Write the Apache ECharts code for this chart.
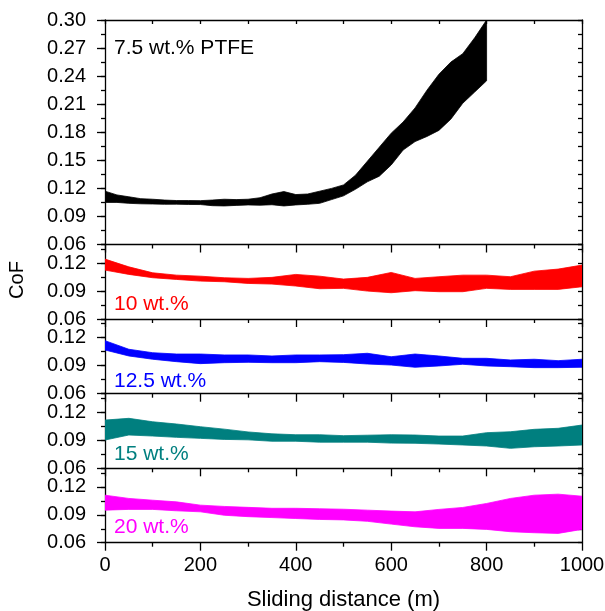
<!DOCTYPE html>
<html>
<head>
<meta charset="utf-8">
<script src="https://cdn.jsdelivr.net/npm/echarts@6/dist/echarts.min.js"></script>
<style>html,body{margin:0;padding:0;background:#fff;}#c{width:605px;height:611px;}</style>
</head>
<body>
<div id="c"></div>
<script>
// ---- data ----
const dist25 = [0,25,50,75,100,125,150,175,200,225,250,275,300,325,350,375,400,425,450,475,500,525,550,575,600,625,650,675,700,725,750,775,800];
const ptfe75Low  = [0.105,0.105,0.104,0.1035,0.1033,0.103,0.1031,0.1028,0.1027,0.1015,0.1012,0.1018,0.1023,0.102,0.1025,0.1012,0.1023,0.103,0.104,0.108,0.112,0.119,0.127,0.133,0.145,0.161,0.170,0.1755,0.182,0.194,0.211,0.223,0.235];
const ptfe75High = [0.117,0.113,0.111,0.109,0.1084,0.1075,0.107,0.107,0.1069,0.1075,0.1084,0.108,0.1084,0.110,0.114,0.1166,0.1134,0.114,0.117,0.120,0.1237,0.134,0.149,0.164,0.179,0.191,0.206,0.225,0.242,0.255,0.264,0.281,0.300];

const dist50 = [0,50,100,150,200,250,300,350,400,450,500,550,600,650,700,750,800,850,900,950,1000];
const ptfe10Low   = [0.1125,0.1079,0.1043,0.1025,0.1007,0.100,0.0982,0.0975,0.0954,0.0925,0.0929,0.090,0.0882,0.0904,0.0893,0.0893,0.0929,0.0918,0.0918,0.0918,0.0946];
const ptfe10High  = [0.1243,0.116,0.1096,0.1071,0.106,0.1043,0.1036,0.1047,0.1079,0.106,0.1029,0.1047,0.110,0.1036,0.1054,0.1071,0.1071,0.1054,0.1114,0.1136,0.1179];
const ptfe125Low  = [0.1068,0.1004,0.0969,0.0943,0.0922,0.0932,0.0936,0.0932,0.0932,0.0943,0.0935,0.0918,0.0907,0.0883,0.0897,0.0915,0.0897,0.0889,0.0879,0.0879,0.0883];
const ptfe125High = [0.1168,0.1076,0.1039,0.1025,0.1025,0.1015,0.1015,0.1004,0.1015,0.1015,0.1018,0.1033,0.0996,0.1025,0.1004,0.0979,0.0979,0.0961,0.0969,0.0954,0.0969];
const ptfe15Low   = [0.0903,0.0957,0.0946,0.0932,0.0921,0.091,0.0905,0.089,0.089,0.088,0.088,0.088,0.087,0.0868,0.086,0.085,0.0839,0.0814,0.0831,0.0839,0.085];
const ptfe15High  = [0.1117,0.1136,0.1099,0.1075,0.1046,0.102,0.099,0.097,0.096,0.096,0.095,0.0955,0.096,0.0957,0.0946,0.0946,0.0982,0.0992,0.1018,0.1029,0.1064];
const ptfe20Low   = [0.095,0.0958,0.0958,0.0943,0.0932,0.0895,0.088,0.087,0.086,0.085,0.0845,0.083,0.080,0.0771,0.0754,0.0754,0.0743,0.0718,0.0707,0.070,0.0743];
const ptfe20High  = [0.1111,0.1076,0.1057,0.1039,0.1004,0.099,0.098,0.097,0.097,0.0965,0.096,0.095,0.094,0.0932,0.0958,0.0979,0.1022,0.1076,0.1111,0.1122,0.110];

const panelLabels = ['7.5 wt.% PTFE','10 wt.%','12.5 wt.%','15 wt.%','20 wt.%'];
const panelColors = ['#000000','#ff0000','#0000ff','#007f7f','#ff00ff'];
const yMax = [0.30,0.14,0.14,0.14,0.14];

// ---- layout ----
const FONT = '"Liberation Sans", Arial, sans-serif';
const gridTops = [20,244.5,319,393.7,468.3];
const gridHeights = [224.5,74.5,74.7,74.6,74.4];
const panels = [
  {d: dist25, lo: ptfe75Low, hi: ptfe75High},
  {d: dist50, lo: ptfe10Low, hi: ptfe10High},
  {d: dist50, lo: ptfe125Low, hi: ptfe125High},
  {d: dist50, lo: ptfe15Low, hi: ptfe15High},
  {d: dist50, lo: ptfe20Low, hi: ptfe20High}
];
const labelCenters = [48.7,305,381.7,455,527.7];

const grid=[], xAxis=[], yAxis=[], series=[], graphic=[];
const lineStyle = {color:'#000', width:1.3};
panels.forEach((p,i)=>{
  grid.push({left:105, right:23, top:gridTops[i], height:gridHeights[i], outerBoundsMode:'none', containLabel:false});
  const xi = xAxis.length;
  xAxis.push({
    type:'value', gridIndex:i, position:'bottom', min:0, max:1000, interval:200,
    axisLine:{show:true, onZero:false, lineStyle},
    axisTick:{show:true, inside:false, length:8, lineStyle},
    minorTick:{show:true, splitNumber:2, length:4, lineStyle},
    splitLine:{show:false},
    axisLabel:{show:i===4, color:'#000', fontSize:20, fontFamily:FONT, margin:13, formatter:v=>String(v)},
    name: i===4 ? 'Sliding distance (m)' : '',
    nameLocation:'middle', nameGap:46,
    nameTextStyle:{color:'#000', fontSize:22, fontFamily:FONT}
  });
  if (i===0) {
    xAxis.push({
      type:'value', gridIndex:i, position:'top', min:0, max:1000, interval:100,
      axisLine:{show:true, onZero:false, lineStyle},
      axisTick:{show:true, inside:true, length:4, lineStyle},
      splitLine:{show:false}, axisLabel:{show:false}
    });
  }
  const yi = yAxis.length;
  yAxis.push({
    type:'value', gridIndex:i, position:'left', min:0.06, max:yMax[i], interval:0.03,
    axisLine:{show:true, onZero:false, lineStyle},
    axisTick:{show:true, inside:false, length:8, lineStyle},
    splitLine:{show:false},
    axisLabel:{show:true, color:'#000', fontSize:20, fontFamily:FONT, margin:19,
      showMaxLabel: i===0, formatter:v=>v.toFixed(2)}
  });
  yAxis.push({
    type:'value', gridIndex:i, position:'left', min:0.06, max:yMax[i], interval:0.015,
    axisLine:{show:false, onZero:false},
    axisTick:{show:true, inside:false, length:4, lineStyle},
    splitLine:{show:false}, axisLabel:{show:false}
  });
  yAxis.push({
    type:'value', gridIndex:i, position:'right', min:0.06, max:yMax[i], interval:0.015,
    axisLine:{show:true, onZero:false, lineStyle},
    axisTick:{show:true, inside:true, length:4, lineStyle},
    splitLine:{show:false}, axisLabel:{show:false}
  });
  const rows = p.d.map((d,k)=>[d, p.lo[k], p.hi[k]]);
  series.push({
    type:'custom', xAxisIndex:xi, yAxisIndex:yi, data:rows, clip:true, silent:true, z:2,
    encode:{x:0, y:[1,2]},
    renderItem:(params, api)=>{
      if (params.dataIndex !== 0) return null;
      const upper = rows.map(r=>api.coord([r[0], r[2]]));
      const lower = rows.map(r=>api.coord([r[0], r[1]])).reverse();
      return {
        type:'polygon',
        shape:{points: upper.concat(lower)},
        style:{fill:panelColors[i], stroke:panelColors[i], lineWidth:0.8}
      };
    }
  });
  graphic.push({
    type:'text', left:114, top:labelCenters[i]-11, z:100,
    style:{text:panelLabels[i], fill:panelColors[i], fontSize:21, fontFamily:FONT}
  });
});
graphic.push({
  type:'text', x:17.5, y:280, rotation:Math.PI/2, z:100,
  style:{text:'CoF', fill:'#000', fontSize:20, fontFamily:FONT, align:'center', verticalAlign:'middle', textAlign:'center', textVerticalAlign:'middle'}
});

const chart = echarts.init(document.getElementById('c'), null, {renderer:'canvas'});
chart.setOption({
  animation:false,
  backgroundColor:'#ffffff',
  grid, xAxis, yAxis, series, graphic
});
</script>
</body>
</html>
